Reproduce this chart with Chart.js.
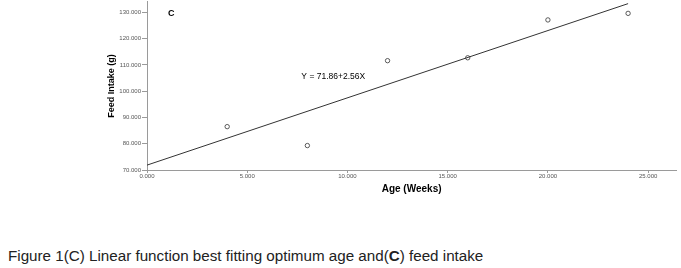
<!DOCTYPE html>
<html>
<head>
<meta charset="utf-8">
<script src="https://cdn.jsdelivr.net/npm/chart.js@4.4.0/dist/chart.umd.min.js"></script>
<style>
  html, body { margin: 0; padding: 0; background: #fff; }
  #wrap { position: relative; width: 681px; height: 268px; overflow: hidden; }
  #chartBox { position: absolute; left: 0; top: -3px; width: 681px; height: 203px; }
  #caption {
    position: absolute; left: 8px; top: 247px;
    font-family: "Liberation Sans", Arial, sans-serif; font-size: 15.2px; color: #222;
    white-space: nowrap;
  }
</style>
</head>
<body>
<div id="wrap">
  <div id="chartBox"><canvas id="feedChart" width="681" height="203"></canvas></div>
  <div id="caption">Figure 1(C) Linear function best fitting optimum age and(<b>C</b>) feed intake</div>
</div>
<script>
// observed points (age in weeks vs feed intake in g)
const ages = [4, 8, 12, 16, 20, 24];
const feedIntake = [86.5, 79.3, 111.6, 112.7, 127.1, 129.6];

// fitted line Y = 71.86 + 2.56X
const intercept = 71.86;
const slope = 2.56;
const fitAges = [0, 24];

const xTickValues = [0, 5, 10, 15, 20, 25];
const yTickValues = [70, 80, 90, 100, 110, 120, 130];

const axisColor = '#9a9a9a';
const tickFont = { family: 'Liberation Sans', size: 6 };

const labelPlugin = {
    id: 'panelLabels',
    afterDraw(chart) {
        const { ctx, scales } = chart;
        const x = scales.x, y = scales.y;
        ctx.save();
        ctx.fillStyle = '#000';
        ctx.textBaseline = 'middle';
        ctx.font = 'bold 9px "Liberation Sans"';
        ctx.fillText('C', x.getPixelForValue(1.05), y.getPixelForValue(129.6));
        ctx.font = '8.5px "Liberation Sans"';
        ctx.fillText('Y = 71.86+2.56X', x.getPixelForValue(7.7), y.getPixelForValue(105.5));
        ctx.restore();
    }
};

const ctx = document.getElementById('feedChart').getContext('2d');
new Chart(ctx, {
    type: 'scatter',
    data: {
        datasets: [
            {
                label: 'Feed intake',
                data: ages.map((a, i) => ({ x: a, y: feedIntake[i] })),
                pointRadius: 2.2,
                pointBorderWidth: 0.8,
                pointBorderColor: '#333',
                pointBackgroundColor: 'rgba(0,0,0,0)'
            },
            {
                label: 'Fit',
                type: 'line',
                data: fitAges.map(a => ({ x: a, y: intercept + slope * a })),
                borderColor: '#333',
                borderWidth: 1,
                pointRadius: 0,
                fill: false,
                clip: false
            }
        ]
    },
    options: {
        responsive: false,
        animation: false,
        layout: { padding: { left: 100, right: 0, top: 0, bottom: 0 } },
        plugins: {
            legend: { display: false },
            tooltip: { enabled: false }
        },
        scales: {
            x: {
                type: 'linear',
                min: 0,
                max: 26.4,
                afterFit: (scale) => { scale.height = 30; },
                afterBuildTicks: (scale) => { scale.ticks = xTickValues.map(v => ({ value: v })); },
                border: { color: axisColor, width: 1 },
                grid: { drawOnChartArea: false, drawTicks: true, tickLength: 3, color: axisColor },
                ticks: {
                    font: tickFont,
                    color: '#555',
                    padding: 0,
                    maxRotation: 0,
                    callback: (v) => Number(v).toFixed(3)
                },
                title: {
                    display: true,
                    text: 'Age (Weeks)',
                    color: '#000',
                    font: { family: 'Liberation Sans', size: 10, weight: 'bold' },
                    padding: { top: 0, bottom: 5 }
                }
            },
            y: {
                type: 'linear',
                min: 70,
                max: 134,
                afterFit: (scale) => { scale.width = 47; },
                afterBuildTicks: (scale) => { scale.ticks = yTickValues.map(v => ({ value: v })); },
                border: { color: axisColor, width: 1 },
                grid: { drawOnChartArea: false, drawTicks: true, tickLength: 5, color: axisColor },
                ticks: {
                    font: tickFont,
                    color: '#555',
                    padding: 1,
                    callback: (v) => Number(v).toFixed(3)
                },
                title: {
                    display: true,
                    text: 'Feed Intake (g)',
                    color: '#000',
                    font: { family: 'Liberation Sans', size: 9, weight: 'bold' },
                    padding: { top: 6, bottom: 0 }
                }
            }
        }
    },
    plugins: [labelPlugin]
});
</script>
</body>
</html>
